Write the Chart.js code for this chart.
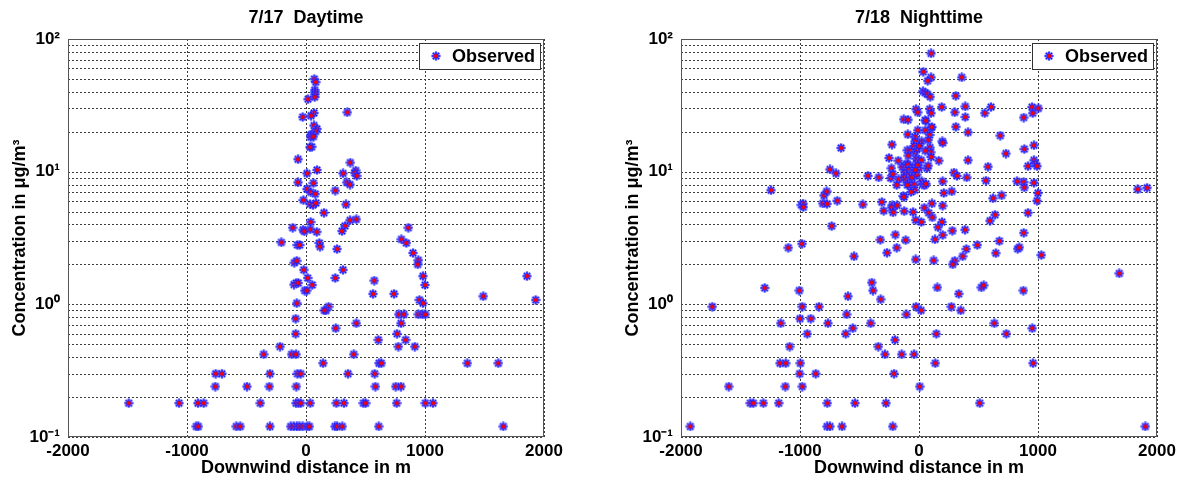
<!DOCTYPE html>
<html>
<head>
<meta charset="utf-8">
<script src="https://cdn.jsdelivr.net/npm/chart.js@4.4.1/dist/chart.umd.min.js"></script>
<style>
  html, body { margin: 0; padding: 0; background: #fff; overflow: hidden; }
  canvas { position: absolute; top: 0; }
  #day { left: 0; }
  #night { left: 590px; }
</style>
</head>
<body>
<canvas id="day" width="590" height="482"></canvas>
<canvas id="night" width="593" height="482"></canvas>
<script>
// 7/17 daytime: downwind distance (m) / concentration (ug/m3)
const dayX = [
  70, 81, 73, 76, 76, 73, 17, 67, 42, -28,
  347, 67, 92, 81, 53, 39, 39, 62, 48, 34,
  -67, 372, 92, 8, 311, 418, 409, 426, -67, 62,
  342, 370, 8, 39, 78, 246, -22, 34, 59, 84,
  336, 151, 39, 370, 423, 328, -112, -25, 36, -14,
  90, 303, 860, -207, -73, -53, 112, 118, 261, 801,
  843, 899, 944, 939, -98, -78, -19, 311, 14, 246,
  -101, -82, -65, 53, 574, 983, 1000, 1857, -11, 6,
  563, 739, 1490, 953, 1930, 983, -78, 190, 168, 154,
  779, 823, 944, 980, 1003, -87, 423, 798, 250, -87,
  765, 608, 837, -218, 776, 914, -356, -121, -84, 401,
  143, 613, 633, 1356, 1616, -759, -706, -303, -73, -45,
  353, 577, -762, -496, -308, -81, 583, 754, 798,
  -1490, -1067, -908, -860, -384, -84, -65, -45,
  36, 255, 319, 482, 501, 762, 1003, 1067,
  -922, -905, -586, -552, -303, -129, -103, -76, -56,
  -28, 11, 28, 244, 261, 305, 611, 1658
];
const dayY = [
  49.9, 47.3, 41.2, 39.8, 38.3, 36.5, 35.2, 27.7, 26.4, 25.8,
  28, 22.3, 21, 20.1, 19.2, 18.9, 18.2, 18.4, 15.4, 15.3,
  12.4, 11.7, 10.3, 9.7, 9.7, 10.2, 9.8, 9.3, 8.3, 8.2,
  8.3, 8.0, 7.4, 7.0, 6.8, 7.2, 6.1, 5.7, 5.6, 5.8,
  5.66, 4.9, 4.17, 4.3, 4.37, 3.9, 3.78, 3.65, 3.67, 3.55,
  3.52, 3.57, 3.78, 2.93, 2.8, 2.8, 2.9, 2.72, 2.61, 3.09,
  2.9, 2.44, 2.15, 2.0, 2.06, 2.13, 1.82, 1.82, 1.58, 1.58,
  1.41, 1.45, 1.45, 1.4, 1.51, 1.63, 1.4, 1.63, 1.27, 1.27,
  1.2, 1.2, 1.15, 1.08, 1.08, 1.02, 1.02, 0.96, 0.9, 0.9,
  0.84, 0.84, 0.84, 0.84, 0.84, 0.78, 0.72, 0.72, 0.66, 0.6,
  0.6, 0.54, 0.54, 0.48, 0.48, 0.48, 0.42, 0.42, 0.42, 0.42,
  0.36, 0.36, 0.36, 0.36, 0.36, 0.3, 0.3, 0.3, 0.3, 0.3,
  0.3, 0.3, 0.24, 0.24, 0.24, 0.24, 0.24, 0.24, 0.24,
  0.18, 0.18, 0.18, 0.18, 0.18, 0.18, 0.18, 0.18,
  0.18, 0.18, 0.18, 0.18, 0.18, 0.18, 0.18, 0.18,
  0.12, 0.12, 0.12, 0.12, 0.12, 0.12, 0.12, 0.12, 0.12,
  0.12, 0.12, 0.12, 0.12, 0.12, 0.12, 0.12, 0.12
];

// 7/18 nighttime
const nightX = [
  101, 36, 101, 73, 359, 34, 53, 70, 95, 309,
  -25, 90, 191, 389, 605, 950, 1003, -11, 101, 300,
  552, 955, 389, 880, -129, -92, 50, 59, 101, 108,
  309, -11, 53, 412, -95, -34, 90, 683, 78, 22,
  3, -34, 196, 199, -227, -655, 885, 966, 731, -98,
  -70, -42, -31, -17, 0, 92, 98, 101, 53, -90,
  -252, -174, -25, -11, 19, 166, 412, -103, -126, -140,
  -112, -92, -53, -36, -17, 0, -11, 67, 78, -232,
  -748, 966, 977, 992, 916, 580, -697, -429, -339, -238,
  -221, -171, -187, -120, -87, -73, -103, -126, -109, -90,
  -76, -42, -39, -59, -19, -31, 22, 34, 45, 59,
  -39, -98, -36, -67, -132, -126, 199, 294, 319, 401,
  208, 275, 563, 824, 880, 966, 885, 1000, 992, 916,
  880, 694, 622, 639, 597, 675, 829, 843, 645, 1028,
  1683, 1838, 1916, -798, -776, -809, -773, -687, -988, -975,
  -972, -1244, -1098, -983, -734, -473, -313, -224, -229, -185,
  -297, -218, -124, -50, 45, 81, 109, 199, 112, -28,
  19, 193, 160, 280, 387, 199, -199, -325, -112, 134,
  490, 398, 367, 300, 283, -269, -187, -546, -28, 123,
  -1297, -1006, -597, -397, -387, -322, 154, 334, 524, 544,
  877, -1737, -981, -840, -25, 17, 272, 351, -608, -106,
  -1000, -910, -1162, -765, -406, 633, -557, 952, -939, -616,
  146, 734, -202, -1087, -342, -286, -146, -42, -1168, -1120,
  -997, 137, 958, -1003, -868, -210, -1599, -1123, -981, 6,
  -1418, -1392, -1308, -1179, -771, -538, -277, 510,
  -1922, -773, -748, -647, -221, 1902
];
const nightY = [
  77.9, 56.6, 51.4, 48.4, 51.4, 40.3, 39.3, 38.4, 36.7, 37.3,
  29.6, 29.6, 30.7, 31, 30.7, 30.7, 30, 28, 27.6, 28,
  27.6, 27.6, 25.8, 25.6, 24.8, 24.6, 24.4, 24.2, 21.4, 21.7,
  21.8, 20.5, 20.5, 19.8, 19.1, 18.3, 18.9, 18.7, 17.3, 16.9,
  16.3, 16.9, 16.9, 16.5, 16, 15.1, 14.8, 15.8, 13.7, 14.5,
  14.5, 15.6, 14.0, 14.8, 15.6, 15.2, 14.0, 12.9, 14.4, 13.2,
  12.7, 12.1, 12.5, 12.1, 12.2, 12.1, 12.2, 11.5, 11.1, 10.8,
  10.8, 11.3, 10.9, 10.6, 10.8, 10.6, 11.2, 10.6, 11.1, 10.6,
  10.4, 12.2, 11.5, 11.0, 11.0, 10.9, 9.7, 9.3, 9.05, 8.95,
  9.6, 8.76, 7.93, 9.9, 10.3, 9.7, 9.4, 9.05, 8.6, 8.25,
  8.0, 9.9, 9.3, 9.05, 9.5, 10.3, 8.45, 8.06, 7.87, 8.1,
  8.0, 7.93, 7.27, 7.03, 6.55, 6.45, 8.45, 9.85, 9.29, 9.05,
  6.9, 7.1, 8.56, 8.45, 8.34, 8.25, 7.6, 6.9, 6.04, 4.9,
  3.46, 6.62, 6.3, 4.73, 4.27, 3.0, 2.62, 2.69, 2.43, 2.35,
  1.71, 7.37, 7.56, 6.62, 7.1, 5.76, 5.72, 6.04, 5.6, 5.75,
  5.4, 7.25, 2.67, 2.86, 3.89, 5.66, 5.9, 5.57, 5.38, 5.57,
  5.07, 4.93, 5.04, 4.96, 5.35, 4.9, 5.76, 5.54, 4.52, 4.32,
  4.17, 4.17, 3.81, 3.59, 3.65, 3.33, 3.35, 3.07, 3.05, 3.09,
  2.8, 2.61, 2.3, 2.13, 2.0, 2.45, 2.67, 2.3, 2.18, 2.14,
  1.33, 1.27, 1.15, 1.46, 1.27, 1.09, 1.34, 1.2, 1.34, 1.39,
  1.27, 0.96, 0.96, 0.96, 0.96, 0.9, 0.96, 0.9, 0.84, 0.84,
  0.78, 0.78, 0.72, 0.72, 0.72, 0.72, 0.66, 0.66, 0.6, 0.6,
  0.6, 0.6, 0.54, 0.48, 0.48, 0.42, 0.42, 0.42, 0.36, 0.36,
  0.36, 0.36, 0.36, 0.3, 0.3, 0.3, 0.24, 0.24, 0.24, 0.24,
  0.18, 0.18, 0.18, 0.18, 0.18, 0.18, 0.18, 0.18,
  0.12, 0.12, 0.12, 0.12, 0.12, 0.12
];

const xTicks = [-2000, -1000, 0, 1000, 2000];
const yTicks = [0.1, 0.2, 0.3, 0.4, 0.5, 0.6, 0.7, 0.8, 0.9,
  1, 2, 3, 4, 5, 6, 7, 8, 9, 10, 20, 30, 40, 50, 60, 70, 80, 90, 100];
const yMajor = [0.1, 1, 10, 100];
const yMajorLabels = ['10⁻¹', '10⁰', '10¹', '10²'];
const seriesLabel = 'Observed';

const FONT = '"Liberation Sans", Arial, sans-serif';
Chart.defaults.font.family = FONT;
Chart.defaults.color = '#000';

// matlab style marker: blue '*' with a red dot on top
function makeMarker() {
  const c = document.createElement('canvas');
  c.width = 10; c.height = 10;
  const g = c.getContext('2d');
  g.translate(5, 5);
  g.fillStyle = 'rgba(120,120,255,0.5)';
  g.beginPath(); g.arc(0, 0, 4.6, 0, Math.PI * 2); g.fill();
  g.strokeStyle = '#1515ff';
  g.lineWidth = 1.6;
  g.beginPath();
  g.moveTo(-4.5, 0); g.lineTo(4.5, 0);
  g.moveTo(0, -4.5); g.lineTo(0, 4.5);
  g.moveTo(-3.2, -3.2); g.lineTo(3.2, 3.2);
  g.moveTo(-3.2, 3.2); g.lineTo(3.2, -3.2);
  g.stroke();
  g.fillStyle = '#ff0000';
  g.beginPath(); g.arc(0, 0, 2.1, 0, Math.PI * 2); g.fill();
  return c;
}
const marker = makeMarker();

// dotted grid, axes box and the in-plot legend
const boxPlugin = {
  id: 'matlabBox',
  beforeDatasetsDraw(chart) {
    const { ctx, chartArea: a } = chart;
    const x = chart.scales.x, y = chart.scales.y;
    ctx.save();
    ctx.strokeStyle = '#3c3c3c';
    ctx.lineWidth = 1;
    ctx.setLineDash([2, 2]);
    ctx.beginPath();
    y.ticks.forEach(t => {
      const py = Math.round(y.getPixelForValue(t.value)) + 0.5;
      ctx.moveTo(a.left, py); ctx.lineTo(a.right, py);
    });
    x.ticks.forEach(t => {
      const px = Math.round(x.getPixelForValue(t.value)) + 0.5;
      ctx.moveTo(px, a.top); ctx.lineTo(px, a.bottom);
    });
    ctx.stroke();
    ctx.setLineDash([]);
    ctx.strokeStyle = '#555';
    ctx.strokeRect(Math.round(a.left) + 0.5, Math.round(a.top) + 0.5,
      Math.round(a.width) - 1, Math.round(a.height) - 1);
    ctx.restore();
  },
  afterDatasetsDraw(chart) {
    const { ctx, chartArea: a } = chart;
    const ds = chart.data.datasets[0];
    ctx.save();
    ctx.font = 'bold 18px ' + FONT;
    const tw = ctx.measureText(ds.label).width;
    const w = Math.round(tw + 38), h = 26;
    const left = Math.round(a.right) - 4 - w, top = Math.round(a.top) + 4;
    ctx.fillStyle = '#fff';
    ctx.fillRect(left, top, w, h);
    ctx.strokeStyle = '#333';
    ctx.lineWidth = 1;
    ctx.strokeRect(left + 0.5, top + 0.5, w, h);
    ctx.drawImage(ds.pointStyle, left + 12, top + h / 2 - 5);
    ctx.fillStyle = '#000';
    ctx.textBaseline = 'middle';
    ctx.fillText(ds.label, left + 33, top + h / 2 + 1);
    ctx.restore();
  }
};

function makeChart(id, title, xs, ys, padLeft, padRight) {
  const points = xs.map((x, i) => ({ x: x, y: ys[i] }));
  const tickFont = { family: FONT, size: 17, weight: 'bold' };
  const titleFont = { family: FONT, size: 18, weight: 'bold' };
  return new Chart(document.getElementById(id), {
    type: 'scatter',
    data: {
      datasets: [{
        label: seriesLabel,
        data: points,
        xAxisID: 'x',
        yAxisID: 'y',
        pointStyle: marker,
        pointRadius: 5,
        pointHoverRadius: 5
      }]
    },
    options: {
      responsive: false,
      animation: false,
      layout: { padding: { left: padLeft, right: padRight, top: 0, bottom: 0 } },
      plugins: {
        legend: { display: false },
        tooltip: { enabled: false }
      },
      scales: {
        x: {
          type: 'linear', position: 'bottom', min: -2000, max: 2000,
          afterBuildTicks: s => { s.ticks = xTicks.map(v => ({ value: v })); },
          ticks: { autoSkip: false, maxRotation: 0, padding: 4, color: '#000', font: tickFont,
            callback: v => String(v) },
          grid: { display: false, drawTicks: false },
          border: { display: false },
          title: { display: true, text: 'Downwind distance in m', color: '#000', font: titleFont,
            padding: { top: 0, bottom: 3 } },
          afterFit: s => { s.height = 45; }
        },
        xTop: {
          type: 'linear', axis: 'x', position: 'top', min: -2000, max: 2000, display: true,
          ticks: { display: false },
          grid: { display: false, drawTicks: false },
          border: { display: false },
          title: { display: true, text: title, color: '#000', font: titleFont,
            padding: { top: 7, bottom: 0 } },
          afterFit: s => { s.height = 39; }
        },
        y: {
          type: 'logarithmic', position: 'left', min: 0.1, max: 100,
          afterBuildTicks: s => { s.ticks = yTicks.map(v => ({ value: v })); },
          ticks: { autoSkip: false, padding: 8, color: '#000', font: tickFont,
            callback: v => { const i = yMajor.indexOf(v); return i >= 0 ? yMajorLabels[i] : ''; } },
          grid: { display: false, drawTicks: false },
          border: { display: false },
          title: { display: true, text: 'Concentration in μg/m³', color: '#000', font: titleFont,
            padding: { top: 9, bottom: 0 } },
          afterFit: s => { s.width = 68; }
        }
      }
    },
    plugins: [boxPlugin]
  });
}

makeChart('day', '7/17  Daytime', dayX, dayY, 0, 46);
makeChart('night', '7/18  Nighttime', nightX, nightY, 23, 26);
</script>
</body>
</html>
